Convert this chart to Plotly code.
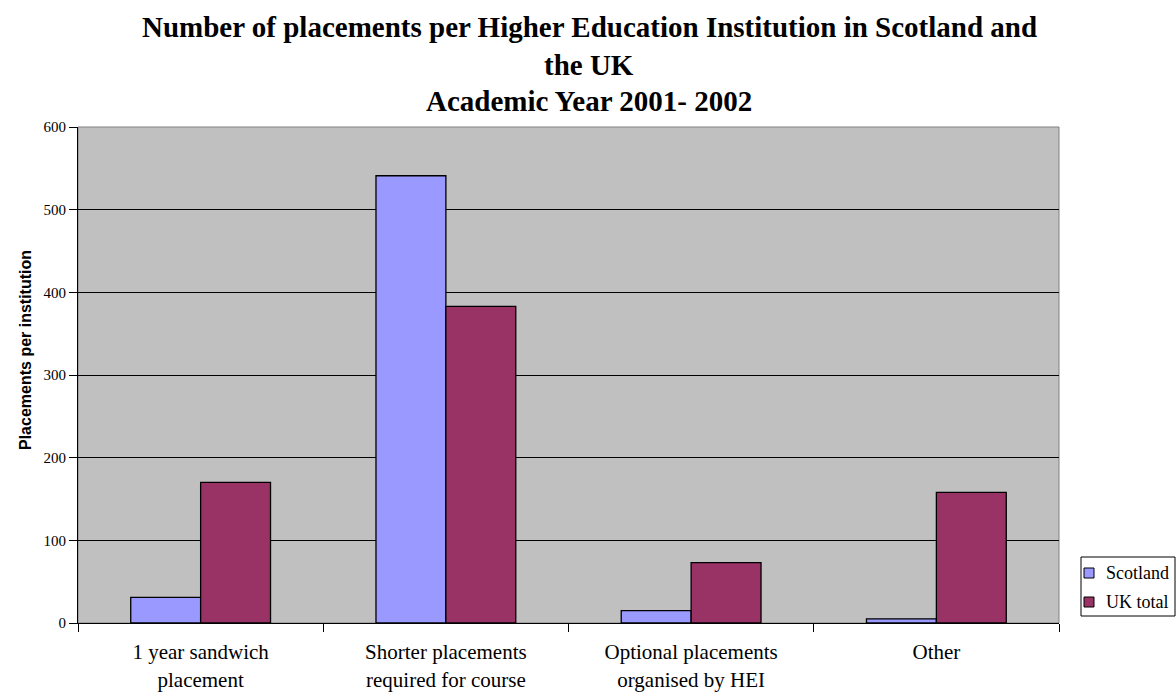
import plotly.graph_objects as go

# Placement types (x categories) and placements per institution
categories = [
    "1 year sandwich<br>placement",
    "Shorter placements<br>required for course",
    "Optional placements<br>organised by HEI",
    "Other",
]
scotland = [31, 541, 15, 5]
uk_total = [170, 383, 73, 158]
series_names = ["Scotland", "UK total"]
series_colors = ["#9999FF", "#993366"]
y_ticks = [0, 100, 200, 300, 400, 500, 600]
title_lines = [
    "Number of placements per Higher Education Institution in Scotland and",
    "the UK",
    "Academic Year 2001- 2002",
]

SERIF = "Liberation Serif, Times New Roman, serif"
SANS = "Liberation Sans, Arial, sans-serif"

fig = go.Figure()
for name, vals, col in zip(series_names, [scotland, uk_total], series_colors):
    fig.add_trace(go.Bar(
        x=categories, y=vals, name=name,
        marker=dict(color=col, line=dict(color="black", width=1.3)),
        showlegend=False,
    ))

W, H = 1176, 696
L, R, T, B = 78, 117, 127, 73
plot_h = H - T - B
plot_w = W - L - R


def py(px):
    """pixel row -> paper y"""
    return (H - B - px) / plot_h


def px_(x):
    """pixel column -> paper x"""
    return (x - L) / plot_w


fig.update_layout(
    width=W, height=H,
    margin=dict(l=L, r=R, t=T, b=B, autoexpand=False),
    paper_bgcolor="white",
    plot_bgcolor="#C0C0C0",
    barmode="group",
    bargap=0.43,
    bargroupgap=0,
    showlegend=False,
)

fig.update_xaxes(
    type="category", automargin=False,
    showline=True, linecolor="black", linewidth=1,
    ticks="outside", tickson="boundaries", ticklen=8, tickcolor="black",
    tickfont=dict(family=SERIF, size=21, color="black"),
    ticklabelstandoff=10,
    showgrid=False,
)
fig.update_yaxes(
    range=[0, 600], tickvals=y_ticks, automargin=False,
    showline=True, linecolor="black", linewidth=1,
    ticks="outside", ticklen=8, tickcolor="black",
    tickfont=dict(family=SERIF, size=15, color="black"),
    showgrid=True, gridcolor="black", gridwidth=1,
    zeroline=False,
)

# plot-area border (top/right)
fig.add_shape(type="rect", xref="paper", yref="paper", x0=0, x1=1, y0=0, y1=1,
              line=dict(color="#808080", width=1), layer="below")

# chart title
for txt, cy in zip(title_lines, [27, 65, 101]):
    fig.add_annotation(text=f"<b>{txt}</b>", xref="paper", yref="paper",
                       x=px_(589), y=py(cy), xanchor="center", yanchor="middle",
                       showarrow=False,
                       font=dict(family=SERIF, size=29, color="black"))

# y-axis title
fig.add_annotation(text="<b>Placements per institution</b>", xref="paper", yref="paper",
                   x=px_(25), y=py(350), xanchor="center", yanchor="middle",
                   textangle=-90, showarrow=False,
                   font=dict(family=SANS, size=16, color="black"))

# legend box
lx0, lx1, ly0, ly1 = 1081, 1175, 557, 616
fig.add_shape(type="rect", xref="paper", yref="paper",
              x0=px_(lx0), x1=px_(lx1), y0=py(ly1), y1=py(ly0),
              line=dict(color="black", width=1), fillcolor="white")
for name, col, cy in zip(series_names, series_colors, [573, 602]):
    fig.add_shape(type="rect", xref="paper", yref="paper",
                  x0=px_(1084), x1=px_(1094), y0=py(cy + 5), y1=py(cy - 5),
                  line=dict(color="black", width=1), fillcolor=col)
    fig.add_annotation(text=name, xref="paper", yref="paper",
                       x=px_(1104), y=py(cy), xanchor="left", yanchor="middle",
                       showarrow=False,
                       font=dict(family=SERIF, size=18, color="black"))

fig.write_html("out.html")
